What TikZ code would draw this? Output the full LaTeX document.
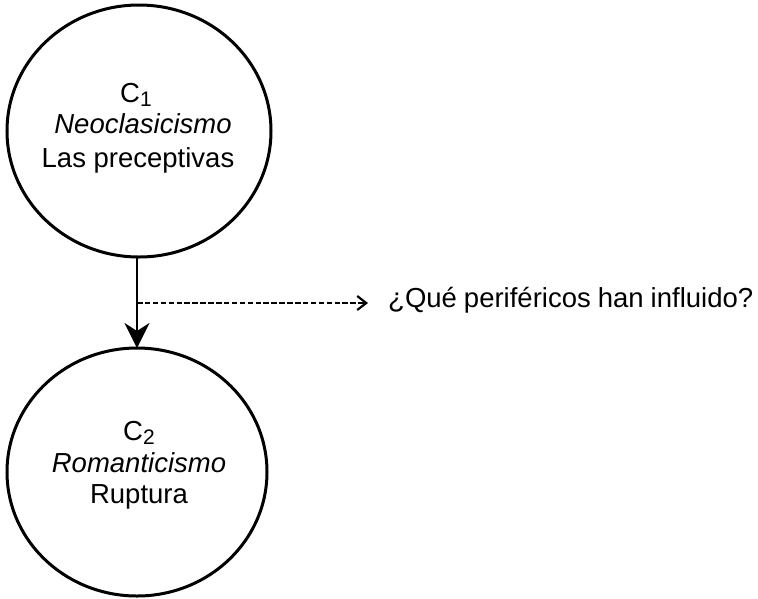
\documentclass[tikz,border=0pt]{standalone}
\usepackage{fontspec}
\setmainfont{Liberation Sans}
\usetikzlibrary{arrows.meta,shapes.geometric}
\tikzset{
  concept/.style={draw, line width=3pt, ellipse, inner sep=0pt},
  lbl/.style={anchor=base, inner sep=0pt, font=\fontsize{27.5}{33}\selectfont},
  mainarrow/.style={line width=2.6pt, -{Stealth[length=25pt,width=25pt,inset=8pt]}},
  dasharrow/.style={line width=2.2pt, dash pattern=on 5.5pt off 2.4pt, -{Straight Barb[length=9pt,width=14pt,line width=2.2pt]}}
}
\newcommand{\subnum}[1]{\raisebox{-4pt}{\fontsize{21}{21}\selectfont #1}}
\begin{document}
\begin{tikzpicture}[x=1pt,y=1pt]
\useasboundingbox (0,0) rectangle (758,-598);
\node[concept, minimum width=264pt, minimum height=252pt] (c1) at (139,-131) {};
\node[concept, minimum width=260pt, minimum height=248pt] (c2) at (137,-472) {};
\node[lbl] (t1a) at (136,-102) {C\subnum{1}};
\node[lbl] (t1b) at (143,-133) {\itshape Neoclasicismo};
\node[lbl] (t1c) at (138,-167) {Las preceptivas};
\node[lbl] (t2a) at (139,-440) {C\subnum{2}};
\node[lbl] (t2b) at (139,-472) {\itshape Romanticismo};
\node[lbl] (t2c) at (139,-503) {Ruptura};
\coordinate (top) at (137,-258);
\coordinate (bot) at (137,-348);
\draw[mainarrow] (top) -- (bot);
\coordinate (m) at (137,-303);
\coordinate (e) at (368,-303);
\draw[dasharrow] (m) -- (e);
\node[lbl, anchor=base west] (q) at (388,-307) {\makebox[365pt][s]{¿Qué periféricos han influido?}};
\end{tikzpicture}
\end{document}
